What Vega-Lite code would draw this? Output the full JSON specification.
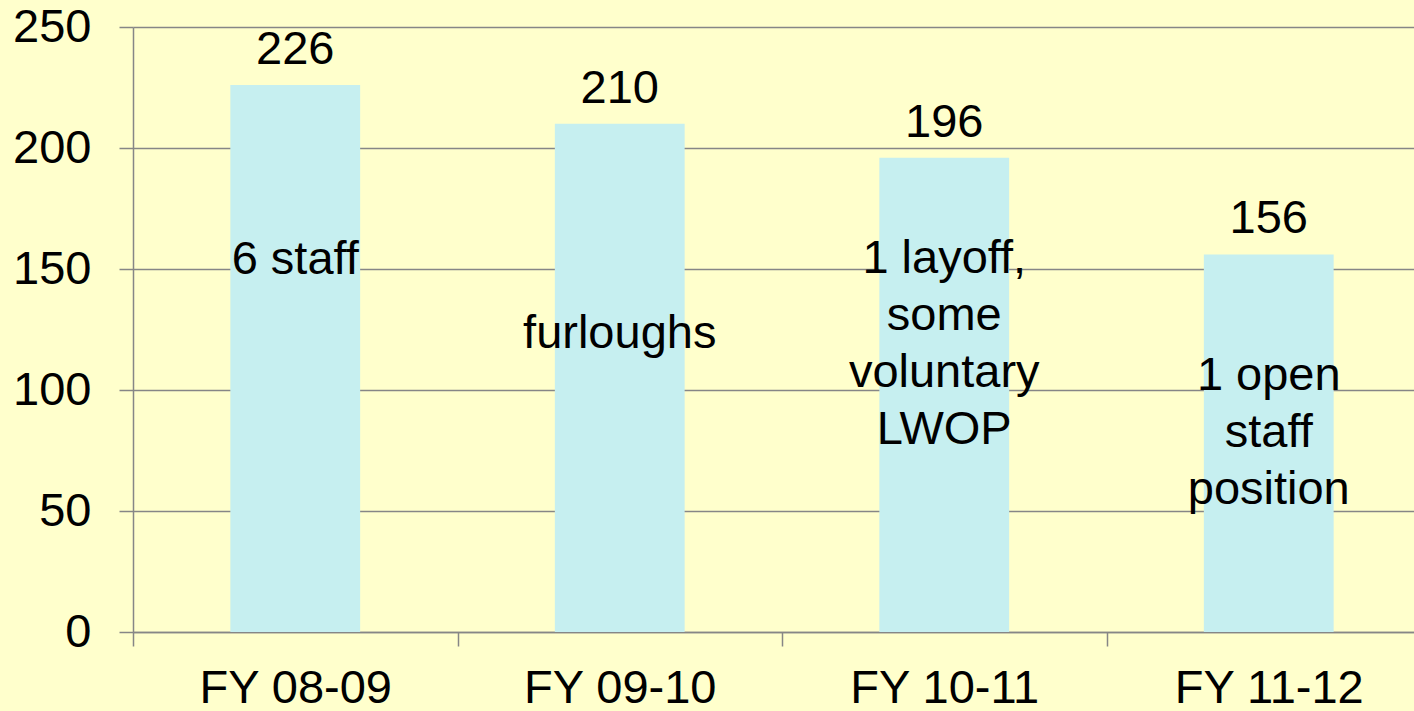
{
  "$schema": "https://vega.github.io/schema/vega-lite/v6.json",
  "autosize": "none",
  "padding": {"left": 133, "top": 27, "right": 0, "bottom": 79},
  "width": 1298,
  "height": 605,
  "background": "#FFFFCC",
  "config": {
    "view": {"stroke": null},
    "font": "Liberation Sans",
    "axis": {
      "labelFont": "Liberation Sans",
      "labelFontSize": 47,
      "labelColor": "#000000",
      "labelLimit": 0,
      "domainColor": "#868686",
      "tickColor": "#868686",
      "gridColor": "#868686",
      "domainWidth": 1.5,
      "tickWidth": 1.5,
      "gridWidth": 1.5,
      "tickSize": 14,
      "title": null
    }
  },
  "data": {
    "values": [
      {"year": "FY 08-09", "value": 226, "note": ["6 staff"], "note_y": 147.8},
      {"year": "FY 09-10", "value": 210, "note": ["furloughs"], "note_y": 117.5},
      {"year": "FY 10-11", "value": 196, "note": ["1 layoff,", "some", "voluntary", "LWOP"], "note_y": 148.2},
      {"year": "FY 11-12", "value": 156, "note": ["1 open", "staff", "position"], "note_y": 100.2}
    ]
  },
  "encoding": {
    "x": {
      "field": "year",
      "type": "nominal",
      "sort": null,
      "scale": {"paddingInner": 0, "paddingOuter": 0},
      "axis": {
        "labelAngle": 0,
        "tickBand": "extent",
        "labelPadding": 19,
        "grid": false,
        "labelOverlap": false
      }
    }
  },
  "layer": [
    {
      "mark": {"type": "bar", "color": "#C6EFF0", "width": {"band": 0.4}},
      "encoding": {
        "y": {
          "field": "value",
          "type": "quantitative",
          "scale": {"domain": [0, 250], "nice": false},
          "axis": {"values": [0, 50, 100, 150, 200, 250], "grid": true, "labelPadding": 28}
        }
      }
    },
    {
      "mark": {"type": "text", "fontSize": 47, "baseline": "alphabetic", "dy": -21, "color": "#000000", "font": "Liberation Sans"},
      "encoding": {
        "y": {"field": "value", "type": "quantitative"},
        "text": {"field": "value", "type": "quantitative"}
      }
    },
    {
      "mark": {"type": "text", "fontSize": 47, "baseline": "alphabetic", "lineHeight": 57, "color": "#000000", "font": "Liberation Sans"},
      "encoding": {
        "y": {"field": "note_y", "type": "quantitative"},
        "text": {"field": "note"}
      }
    }
  ]
}
